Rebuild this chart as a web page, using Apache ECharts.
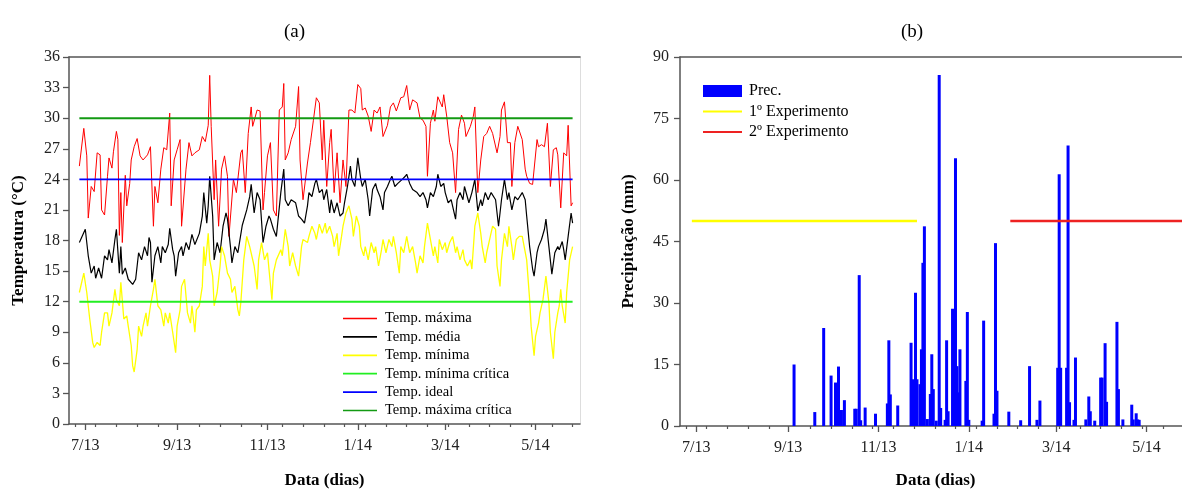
<!DOCTYPE html>
<html><head><meta charset="utf-8">
<script src="https://cdn.jsdelivr.net/npm/echarts@6/dist/echarts.min.js"></script>
<style>html,body{margin:0;padding:0;background:#fff}#c{width:1182px;height:489px}</style>
</head><body><div id="c"></div><script>
// All day values are days counted from 2013-07-01 (day 0)
const axisStartDay = -11, axisEndDay = 334;
const labelDays = [0, 62, 123, 184, 243, 304];
const labelTexts = ['7/13', '9/13', '11/13', '1/14', '3/14', '5/14'];
const minorTickDays = [-7, 7, 21, 35, 49, 77, 91, 105, 119, 133, 147, 161, 175, 189, 203, 217, 231, 245, 259, 273, 287, 301, 315, 329];

// Temp. máxima [day, °C]
const tempMax = [[-4,25.3],[-1,29.0],[1,26.3],[2,20.2],[4,23.3],[6,22.8],[8,26.6],[10,26.4],[11,21.0],[13,20.5],[15,24.3],[16,26.1],[18,25.1],[19,26.7],[21,28.7],[22,27.9],[23,18.5],[24,22.7],[25,17.8],[27,24.4],[28,21.4],[30,23.6],[31,25.9],[33,27.2],[35,28.0],[37,26.3],[39,25.9],[42,26.4],[44,27.2],[46,19.4],[47,23.3],[49,21.7],[51,25.0],[53,27.1],[55,26.9],[57,30.5],[58,21.4],[60,25.9],[62,26.9],[64,27.9],[65,19.4],[68,25.0],[70,27.6],[72,26.3],[74,26.6],[77,26.9],[79,28.2],[81,27.7],[83,29.3],[84,34.2],[85,29.2],[87,22.0],[88,25.9],[90,19.4],[92,25.0],[94,26.3],[96,24.3],[97,18.4],[100,24.0],[102,22.7],[105,26.6],[106,26.9],[108,22.7],[110,28.5],[112,31.1],[113,29.2],[116,30.8],[118,30.7],[120,21.0],[121,22.7],[123,26.3],[125,27.6],[127,21.0],[129,20.4],[131,30.8],[133,31.1],[134,33.4],[135,25.9],[137,26.6],[139,27.9],[142,29.2],[144,33.1],[145,25.9],[147,22.0],[150,25.6],[152,27.6],[154,29.8],[156,32.0],[158,31.5],[160,25.9],[161,29.8],[163,23.3],[165,27.6],[166,28.9],[168,22.7],[170,26.6],[172,21.7],[174,25.9],[176,23.3],[178,30.8],[180,30.8],[182,30.5],[184,33.3],[186,32.9],[187,30.8],[189,31.0],[191,30.2],[193,28.7],[195,30.8],[197,30.5],[199,31.1],[201,28.2],[204,29.3],[206,31.1],[208,31.5],[210,30.7],[213,32.0],[215,32.1],[217,33.2],[219,30.8],[221,31.8],[224,31.5],[226,30.0],[228,29.8],[230,29.2],[231,24.3],[233,29.5],[235,30.8],[236,29.7],[238,32.1],[241,31.1],[242,32.3],[244,30.2],[246,27.6],[248,26.6],[250,22.7],[252,28.9],[254,30.3],[256,29.5],[257,28.2],[260,29.2],[262,30.2],[263,31.1],[265,22.7],[267,25.9],[269,28.2],[271,28.5],[273,29.2],[275,28.5],[278,26.6],[280,28.2],[281,30.8],[283,31.6],[285,27.6],[287,27.6],[288,23.3],[290,27.6],[292,29.2],[295,27.9],[297,25.0],[298,24.3],[300,23.6],[302,23.5],[305,27.9],[306,27.2],[308,27.4],[310,27.2],[312,29.5],[314,23.3],[316,26.9],[318,27.1],[319,26.4],[321,21.2],[323,26.6],[325,26.3],[326,29.3],[328,21.4],[329,21.7]];

// Temp. média [day, °C]
const tempMed = [[-4,17.8],[0,19.1],[2,16.5],[4,14.8],[6,15.5],[7,14.3],[9,15.3],[11,14.3],[13,16.5],[15,16.1],[16,17.1],[18,15.8],[20,18.1],[21,19.1],[23,14.8],[24,17.4],[25,14.7],[27,15.3],[29,14.2],[32,13.7],[34,14.2],[36,16.8],[38,16.1],[40,17.4],[42,16.5],[43,18.3],[44,17.8],[45,13.9],[47,16.5],[49,17.4],[51,15.8],[52,17.4],[54,16.8],[56,17.6],[57,19.2],[59,17.1],[60,16.5],[61,14.5],[63,16.8],[65,17.4],[66,16.5],[68,17.8],[70,17.1],[72,18.6],[74,17.6],[77,18.7],[79,20.4],[80,22.7],[82,19.7],[83,21.4],[84,24.3],[86,20.4],[87,16.1],[89,17.8],[91,16.8],[93,19.4],[95,20.7],[96,20.1],[98,17.4],[99,15.8],[101,17.4],[103,16.8],[106,19.5],[109,21.0],[111,22.3],[112,23.5],[114,20.7],[116,22.7],[118,22.0],[120,17.8],[122,19.4],[124,20.4],[125,20.1],[127,19.1],[129,18.4],[132,22.7],[134,25.0],[135,22.0],[137,21.4],[139,22.0],[142,21.7],[144,20.4],[146,20.1],[148,19.7],[150,21.4],[151,22.7],[153,22.3],[155,23.6],[156,24.0],[158,22.7],[160,23.0],[161,22.0],[163,23.0],[165,20.7],[166,22.0],[168,20.7],[170,21.7],[172,20.4],[174,20.7],[175,21.7],[177,23.3],[179,25.3],[180,24.0],[182,23.3],[184,26.1],[186,24.0],[187,23.3],[189,24.0],[191,22.0],[192,20.4],[194,23.0],[196,23.6],[197,23.0],[199,22.3],[201,21.0],[202,22.7],[204,23.3],[206,24.0],[207,24.3],[209,23.3],[211,23.6],[214,24.0],[216,24.3],[217,24.5],[219,23.6],[221,23.0],[224,22.7],[226,22.3],[228,22.7],[230,22.0],[231,21.2],[233,22.7],[235,22.3],[237,23.3],[238,24.5],[240,23.3],[242,23.6],[243,22.7],[245,21.7],[247,22.0],[250,20.1],[251,22.0],[253,22.7],[255,22.0],[256,23.3],[259,21.7],[261,22.7],[263,24.0],[265,20.9],[267,22.0],[268,21.4],[270,22.7],[272,22.0],[274,22.7],[277,22.0],[279,19.4],[281,22.0],[283,24.0],[285,22.0],[286,22.7],[288,21.0],[290,22.3],[292,22.0],[295,22.7],[297,22.0],[298,20.4],[300,17.4],[302,15.2],[303,14.5],[305,16.8],[306,17.4],[308,18.1],[310,19.1],[311,20.1],[313,17.4],[315,14.7],[317,16.8],[319,17.4],[320,17.1],[322,17.9],[323,17.1],[324,16.1],[326,18.4],[328,20.7],[329,19.7]];

// Temp. mínima [day, °C]
const tempMin = [[-4,12.9],[-1,14.8],[1,12.9],[3,10.3],[5,8.0],[6,7.5],[8,8.0],[10,7.7],[11,9.0],[13,10.9],[15,10.9],[16,9.6],[18,10.9],[20,13.2],[21,12.2],[23,11.6],[24,13.9],[26,10.3],[28,10.6],[29,9.6],[31,7.7],[32,5.7],[33,5.1],[35,7.3],[36,9.6],[38,8.6],[39,9.6],[41,10.9],[42,9.6],[44,11.6],[46,13.2],[47,14.2],[49,11.6],[51,11.2],[53,9.6],[54,10.9],[56,9.9],[57,10.9],[59,9.0],[61,7.0],[62,9.6],[64,11.2],[65,13.5],[67,14.2],[69,10.9],[71,9.9],[72,11.6],[74,9.0],[75,11.2],[77,11.6],[79,13.5],[80,17.4],[81,15.5],[83,18.7],[84,16.1],[86,14.5],[87,11.6],[89,12.9],[91,15.5],[92,17.4],[94,16.5],[96,14.8],[98,14.2],[99,12.9],[101,13.5],[103,11.2],[104,10.6],[105,11.9],[107,16.1],[109,18.4],[111,17.4],[114,15.5],[116,13.2],[117,16.1],[119,17.8],[121,16.1],[123,16.8],[124,15.2],[126,12.2],[127,14.8],[129,16.1],[132,17.1],[133,16.5],[135,19.1],[137,17.4],[138,15.5],[140,16.8],[142,15.5],[144,14.5],[146,17.4],[147,18.1],[150,17.8],[151,18.4],[153,19.4],[155,18.7],[156,18.1],[158,19.6],[160,18.7],[162,19.7],[163,18.7],[165,19.4],[167,18.4],[168,17.4],[170,18.7],[171,16.5],[173,18.4],[174,19.4],[176,20.7],[178,21.4],[180,20.1],[181,18.4],[183,20.4],[185,19.4],[186,17.4],[188,16.5],[189,17.4],[191,16.1],[193,17.8],[195,16.8],[196,17.4],[198,15.5],[200,17.1],[201,18.1],[203,16.8],[205,18.1],[207,17.4],[208,18.4],[210,16.8],[212,14.8],[213,17.4],[215,16.8],[217,18.4],[219,16.8],[221,17.4],[223,15.8],[224,14.8],[226,16.5],[228,15.8],[229,17.4],[231,19.7],[233,18.1],[235,16.5],[236,17.4],[238,15.8],[239,18.1],[241,17.1],[243,17.8],[244,16.8],[246,17.8],[248,18.4],[250,16.8],[251,17.4],[253,16.1],[255,17.1],[256,16.1],[258,15.5],[260,16.1],[261,15.2],[263,19.4],[265,20.7],[267,18.7],[268,17.4],[270,15.8],[271,16.8],[273,18.1],[275,19.4],[277,19.1],[278,15.5],[280,13.5],[281,16.1],[283,18.7],[285,17.4],[286,19.4],[288,17.4],[289,16.1],[291,18.1],[293,18.4],[295,18.4],[296,18.4],[298,16.1],[300,12.2],[301,9.6],[303,6.7],[304,8.6],[306,9.9],[307,10.9],[309,12.2],[311,14.5],[313,11.9],[314,9.0],[316,6.4],[317,9.0],[319,10.9],[320,11.6],[321,13.2],[322,11.6],[324,9.9],[325,12.9],[327,16.1],[329,17.4]];

// Reference temperatures (°C) and the days they span
const tempMinCritica = 12, tempIdeal = 24, tempMaxCritica = 30;
const refSpan = [-4, 329];

// Precipitation [day, mm]
const prec = [[66,15.0],[80,3.4],[86,23.9],[91,12.3],[94,10.6],[96,14.5],[98,3.9],[100,6.3],[107,4.2],[108,4.2],[110,36.8],[111,1.4],[114,4.5],[121,3.0],[129,5.5],[130,20.9],[131,7.7],[136,5.0],[145,20.3],[146,11.4],[148,32.5],[149,11.4],[151,10.2],[152,18.7],[153,39.8],[154,48.7],[156,1.7],[158,7.8],[159,17.5],[160,9.0],[162,1.3],[164,85.6],[165,4.4],[168,1.5],[169,20.9],[170,3.6],[173,28.6],[174,18.7],[175,65.3],[176,14.6],[177,8.2],[178,18.7],[182,11.0],[183,27.8],[184,1.5],[193,1.3],[194,25.7],[201,3.0],[202,44.6],[203,8.6],[211,3.5],[219,1.4],[225,14.6],[230,1.5],[232,6.2],[244,14.2],[245,61.4],[246,14.2],[250,14.2],[251,68.4],[252,5.8],[255,1.5],[256,16.7],[263,1.6],[265,7.2],[266,3.6],[269,1.3],[273,11.8],[274,11.8],[276,20.2],[277,5.9],[284,25.4],[285,9.0],[288,1.6],[294,5.2],[295,1.6],[297,3.1],[298,1.6],[299,1.5],[329,1.6]];

// Experiment periods (level in mm, start day, end day)
const exp1 = {level: 50, from: -3, to: 149};
const exp2 = {level: 50, from: 212, to: 334};

// ---------- build ----------
const base = Date.UTC(2013, 6, 1);
const cat = d => new Date(base + d * 86400000).toISOString().slice(0, 10);
const cats = [];
for (let d = axisStartDay; d <= axisEndDay; d++) cats.push(cat(d));
const idx = d => d - axisStartDay;
const majorIdx = new Set(labelDays.map(idx));
const minorIdx = new Set(minorTickDays.map(idx));
const labelOf = {};
labelDays.forEach((d, i) => labelOf[idx(d)] = labelTexts[i]);
const toCat = arr => arr.map(([d, v]) => [cat(d), v]);
const flat = (v, a, b) => [[cat(a), v], [cat(b), v]];

const FONT = 'Liberation Serif';
const G = '#555';
const LINE_ICON = 'path://M0,0H40V2H0Z';

function xAxes(grid, nameGap) {
  return [
    {type: 'category', gridIndex: grid, position: 'bottom', data: cats, boundaryGap: false,
     axisLine: {onZero: false, lineStyle: {color: G, width: 1.5}},
     axisTick: {show: true, interval: i => majorIdx.has(i), length: 6, lineStyle: {color: G, width: 1.3}},
     axisLabel: {interval: i => majorIdx.has(i), formatter: (v, i) => labelOf[i] || '', margin: 14,
                 fontFamily: FONT, fontSize: 16, color: '#222'},
     name: 'Data (dias)', nameLocation: 'middle', nameGap: nameGap,
     nameTextStyle: {fontFamily: FONT, fontWeight: 'bold', fontSize: 17, color: '#000'}},
    {type: 'category', gridIndex: grid, position: 'bottom', data: cats, boundaryGap: false,
     axisLine: {show: false, onZero: false},
     axisTick: {show: true, interval: i => minorIdx.has(i), length: 3, lineStyle: {color: G, width: 1.2}},
     axisLabel: {show: false}},
    {type: 'category', gridIndex: grid, position: 'top', data: cats, boundaryGap: false,
     axisLine: {show: true, onZero: false, lineStyle: {color: G, width: 1.5}},
     axisTick: {show: false}, axisLabel: {show: false}}
  ];
}
function yMain(grid, max, interval, name, margin, nameGap) {
  return {type: 'value', gridIndex: grid, position: 'left', min: 0, max: max, interval: interval,
    axisLine: {show: true, onZero: false, lineStyle: {color: G, width: 1.5}},
    axisTick: {show: true, length: 6, lineStyle: {color: G, width: 1.3}},
    splitLine: {show: false},
    axisLabel: {margin: margin, fontFamily: FONT, fontSize: 16, color: '#222'},
    name: name, nameLocation: 'middle', nameRotate: 90, nameGap: nameGap,
    nameTextStyle: {fontFamily: FONT, fontWeight: 'bold', fontSize: 17, color: '#000'}};
}

const line = (name, data, color, width, xi, yi, z) => ({
  type: 'line', name, data, xAxisIndex: xi, yAxisIndex: yi, showSymbol: false, symbol: 'none',
  lineStyle: {color, width}, itemStyle: {color}, z: z || 2, silent: true
});

const leftNames = ['Temp. máxima', 'Temp. média', 'Temp. mínima', 'Temp. mínima crítica', 'Temp. ideal', 'Temp. máxima crítica'];

const option = {
  animation: false,
  backgroundColor: '#fff',
  title: [
    {text: '(a)', left: 284, top: 23, padding: 0, textStyle: {fontFamily: FONT, fontSize: 19, fontWeight: 'normal', color: '#000'}},
    {text: '(b)', left: 901, top: 23, padding: 0, textStyle: {fontFamily: FONT, fontSize: 19, fontWeight: 'normal', color: '#000'}}
  ],
  grid: [
    {left: 69, top: 57, width: 511, height: 367, outerBoundsMode: 'none', containLabel: false},
    {left: 680, top: 57, width: 511, height: 369, outerBoundsMode: 'none', containLabel: false}
  ],
  xAxis: [...xAxes(0, 48), ...xAxes(1, 46)],
  yAxis: [
    yMain(0, 36, 3, 'Temperatura (°C)', 9, 42),
    {type: 'value', gridIndex: 0, position: 'right', min: 0, max: 36,
     axisLine: {show: true, onZero: false, lineStyle: {color: '#ddd', width: 1}},
     axisTick: {show: false}, axisLabel: {show: false}, splitLine: {show: false}},
    yMain(1, 90, 15, 'Precipitação (mm)', 11, 43)
  ],
  legend: [
    {orient: 'vertical', left: 343, top: 311, padding: 0, itemWidth: 34, itemHeight: 14, itemGap: 3.4,
     textStyle: {fontFamily: FONT, fontSize: 14.5, lineHeight: 14, color: '#000', padding: [0, 0, 0, 3]},
     data: leftNames.map(n => ({name: n, icon: LINE_ICON}))},
    {orient: 'vertical', left: 703, top: 83, padding: 0, itemWidth: 39, itemHeight: 12, itemGap: 4.5,
     textStyle: {fontFamily: FONT, fontSize: 16, lineHeight: 16, color: '#000', padding: [0, 0, 0, 2]},
     data: [{name: 'Prec.', icon: 'rect'}, {name: '1º Experimento', icon: LINE_ICON}, {name: '2º Experimento', icon: LINE_ICON}]}
  ],
  series: [
    line('Temp. máxima', toCat(tempMax), '#ff0000', 1, 0, 0),
    line('Temp. média', toCat(tempMed), '#000000', 1.2, 0, 0),
    line('Temp. mínima', toCat(tempMin), '#ffff00', 1.3, 0, 0),
    line('Temp. mínima crítica', flat(tempMinCritica, refSpan[0], refSpan[1]), '#22ee22', 2, 0, 0, 5),
    line('Temp. ideal', flat(tempIdeal, refSpan[0], refSpan[1]), '#0000ff', 1.8, 0, 0, 5),
    line('Temp. máxima crítica', flat(tempMaxCritica, refSpan[0], refSpan[1]), '#139a13', 2, 0, 0, 5),
    {type: 'bar', name: 'Prec.', data: toCat(prec), xAxisIndex: 3, yAxisIndex: 2, barWidth: 3,
     itemStyle: {color: '#0000ff'}, silent: true},
    line('1º Experimento', flat(exp1.level, exp1.from, exp1.to), '#ffff00', 2.5, 3, 2, 5),
    line('2º Experimento', flat(exp2.level, exp2.from, exp2.to), '#ee2222', 2.5, 3, 2, 5)
  ]
};
const chart = echarts.init(document.getElementById('c'), null, {renderer: 'canvas'});
chart.setOption(option);
</script></body></html>
